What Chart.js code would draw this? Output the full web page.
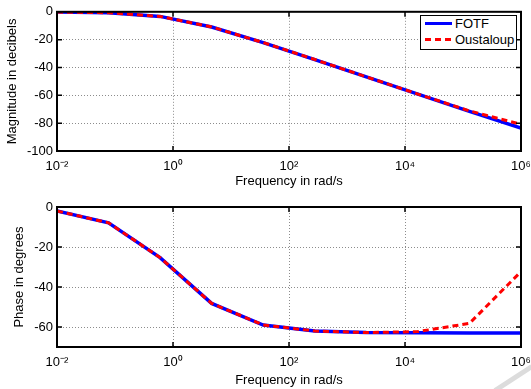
<!DOCTYPE html>
<html>
<head>
<meta charset="utf-8">
<script src="https://cdn.jsdelivr.net/npm/chart.js@4.4.1/dist/chart.umd.min.js"></script>
<style>
    body { margin: 0; background: #fff; width: 531px; height: 389px; overflow: hidden; position: relative;
           font-family: "Liberation Sans", Arial, sans-serif; }
    #magChart { position: absolute; left: 0; top: 0; }
    #phaseChart { position: absolute; left: 0; top: 195px; }
    #legend { position: absolute; left: 420px; top: 15px; width: 97px; height: 35px; box-sizing: border-box;
              border: 1.5px solid #000; background: #fff; font-size: 13px; color: #000; }
    #legend .item { position: absolute; left: 4px; height: 16px; line-height: 16px; white-space: nowrap; }
    #legend .swatch { display: inline-block; width: 27px; height: 3px; vertical-align: middle; margin-right: 3px; margin-top: -2px; }
    #legend .solid { background: #0000ff; height: 3.5px; }
    #legend .dashed { background: repeating-linear-gradient(to right, #ff0000 0 6px, transparent 6px 10px); }
    /* faint grey streak in the bottom right corner of the scan */
    #streak { position: absolute; left: 495px; top: 388px; width: 44px; height: 5px; background: #dcdcdc;
              transform: rotate(-33deg); transform-origin: 0 50%; }
</style>
</head>
<body>
<canvas id="magChart" width="531" height="195"></canvas>
<canvas id="phaseChart" width="531" height="194"></canvas>
<div id="legend">
    <div class="item" style="top:0px"><span class="swatch solid"></span>FOTF</div>
    <div class="item" style="top:16px"><span class="swatch dashed"></span>Oustaloup</div>
</div>
<div id="streak"></div>
<script>
// frequencies (rad/s), sampled points of both responses
var freq = [0.01, 0.0774, 0.599, 4.64, 35.9, 278, 2154, 16681, 129155, 1000000];

// magnitude in dB
var magFotf = [-0.2, -0.7, -3.3, -10.9, -22.1, -34.3, -46.7, -59.1, -71.5, -83.5];
var magOust = [-0.2, -0.7, -3.3, -10.9, -22.1, -34.3, -46.7, -59.1, -71.2, -80.8];

// phase in degrees
var phaseFotf = [-2.0, -7.9, -25.3, -48.2, -59.0, -62.0, -62.8, -62.9, -63.0, -63.0];
var phaseOust = [-2.0, -7.9, -25.3, -48.2, -59.0, -62.0, -62.8, -62.3, -58.2, -32.3];

// axis ticks
var xTicks = [0.01, 1, 100, 10000, 1000000];
var xTickLabels = ['10\u207B\u00B2', '10\u2070', '10\u00B2', '10\u2074', '10\u2076'];
var magTicks = [-100, -80, -60, -40, -20, 0];
var phaseTicks = [-60, -40, -20, 0];

var FONT = { family: '"Liberation Sans", Arial, sans-serif', size: 13 };

// black box round the plot with inward tick marks, like the original
var framePlugin = {
    id: 'frame',
    afterDatasetsDraw: function(chart) {
        var ctx = chart.ctx;
        var a = chart.chartArea;
        var sx = chart.scales.x;
        var sy = chart.scales.y;
        ctx.save();
        ctx.strokeStyle = '#000';
        ctx.lineWidth = 1.5;
        ctx.beginPath();
        sx.ticks.forEach(function(t) {
            var x = sx.getPixelForValue(t.value);
            ctx.moveTo(x, a.bottom); ctx.lineTo(x, a.bottom - 5);
            ctx.moveTo(x, a.top); ctx.lineTo(x, a.top + 5);
        });
        sy.ticks.forEach(function(t) {
            var y = sy.getPixelForValue(t.value);
            ctx.moveTo(a.left, y); ctx.lineTo(a.left + 5, y);
            ctx.moveTo(a.right, y); ctx.lineTo(a.right - 5, y);
        });
        ctx.stroke();
        ctx.lineWidth = 2;
        ctx.strokeRect(a.left, a.top, a.right - a.left, a.bottom - a.top);
        ctx.restore();
    }
};

function makeChart(id, fotf, oust, yTicks, yMin, yLabel, opts) {
    var ctx = document.getElementById(id).getContext('2d');
    return new Chart(ctx, {
        type: 'line',
        data: {
            labels: freq,
            datasets: [
                {
                    label: 'FOTF',
                    data: freq.map(function(f, i) { return { x: f, y: fotf[i] }; }),
                    borderColor: '#0000ff',
                    borderWidth: 3.5,
                    pointRadius: 0,
                    tension: 0,
                    order: 1
                },
                {
                    label: 'Oustaloup',
                    data: freq.map(function(f, i) { return { x: f, y: oust[i] }; }),
                    borderColor: '#ff0000',
                    borderWidth: 3,
                    borderDash: [6, 4],
                    pointRadius: 0,
                    tension: 0,
                    order: 0
                }
            ]
        },
        options: {
            responsive: false,
            animation: false,
            layout: { padding: { top: opts.padTop, right: 10, left: 0, bottom: 0 } },
            plugins: { legend: { display: false }, tooltip: { enabled: false } },
            scales: {
                x: {
                    type: 'logarithmic',
                    min: 0.01,
                    max: 1000000,
                    afterBuildTicks: function(scale) {
                        scale.ticks = xTicks.map(function(v) { return { value: v }; });
                    },
                    afterFit: function(scale) {
                        scale.height = opts.xHeight;
                        scale.paddingLeft = 0;
                        scale.paddingRight = 0;
                    },
                    ticks: {
                        autoSkip: false,
                        maxRotation: 0,
                        padding: 8,
                        color: '#000',
                        font: FONT,
                        callback: function(value) {
                            var i = xTicks.indexOf(value);
                            return i >= 0 ? xTickLabels[i] : '';
                        }
                    },
                    grid: { color: 'rgba(0,0,0,0.45)', lineWidth: 1, drawTicks: false },
                    border: { display: false, dash: [1, 2] },
                    title: { display: true, text: 'Frequency in rad/s', color: '#000', font: FONT,
                             padding: { top: 0, bottom: opts.xTitlePad } }
                },
                y: {
                    min: yMin,
                    max: 0,
                    afterBuildTicks: function(scale) {
                        scale.ticks = yTicks.map(function(v) { return { value: v }; });
                    },
                    afterFit: function(scale) {
                        scale.width = 57;
                    },
                    ticks: { padding: 4, color: '#000', font: FONT },
                    grid: { color: 'rgba(0,0,0,0.45)', lineWidth: 1, drawTicks: false },
                    border: { display: false, dash: [1, 2] },
                    title: { display: true, text: yLabel, color: '#000', font: FONT,
                             padding: { top: opts.yTitlePad, bottom: 0 } }
                }
            }
        },
        plugins: [framePlugin]
    });
}

makeChart('magChart', magFotf, magOust, magTicks, -100, 'Magnitude in decibels',
          { padTop: 11, xHeight: 44, xTitlePad: 6, yTitlePad: 5 });
makeChart('phaseChart', phaseFotf, phaseOust, phaseTicks, -70, 'Phase in degrees',
          { padTop: 12, xHeight: 42, xTitlePad: 1, yTitlePad: 12 });
</script>
</body>
</html>
